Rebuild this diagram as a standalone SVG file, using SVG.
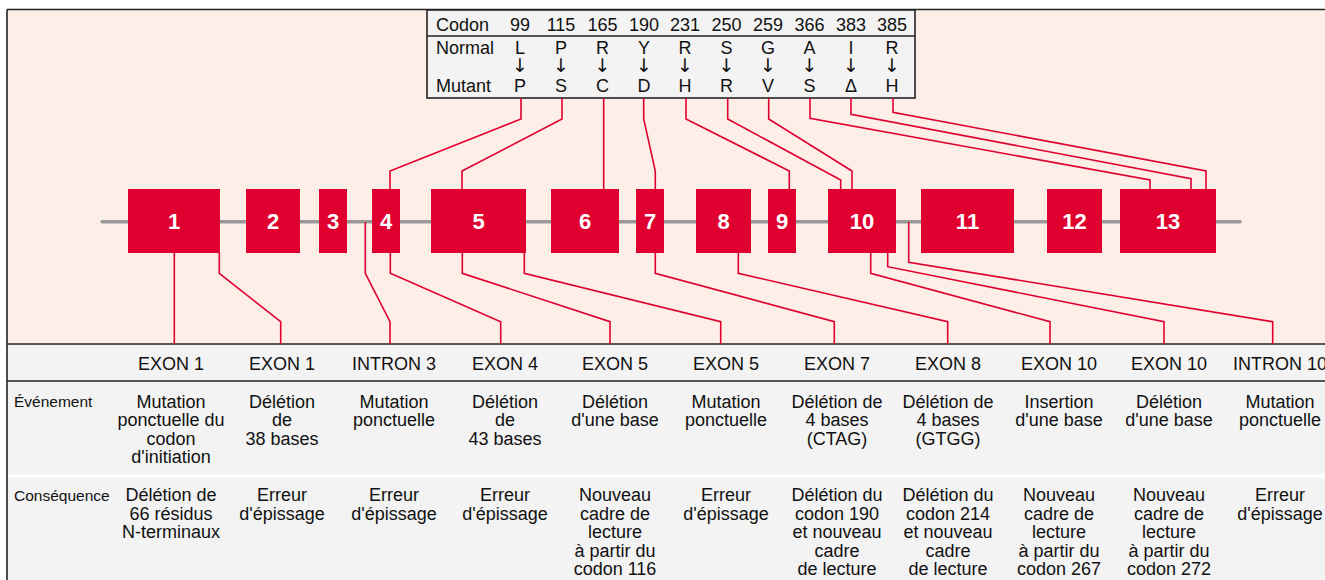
<svg xmlns="http://www.w3.org/2000/svg" width="1325" height="580" viewBox="0 0 1325 580">
<style>
.ex{fill:#e0002f}
.exl{font-family:"Liberation Sans",Arial,sans-serif;font-weight:bold;font-size:22px;fill:#fff;text-anchor:middle}
.c{fill:none;stroke:#e0002f;stroke-width:1.6}
.t{font-family:"Liberation Sans","DejaVu Sans",sans-serif;font-size:18px;fill:#111}
.m{text-anchor:middle}
.ar{font-family:"DejaVu Sans",sans-serif;font-size:19px;fill:#111;text-anchor:middle}
.s{font-family:"Liberation Sans",sans-serif;font-size:15.5px;fill:#111}
.bd{stroke:#222;stroke-width:1.6;fill:none}
</style>
<rect x="0" y="0" width="1325" height="580" fill="#fff"/>
<rect x="7" y="9.5" width="1318" height="335" fill="#fdefe8"/>
<rect x="7" y="344" width="1318" height="236" fill="#f3f3f3"/>
<line x1="8" y1="476" x2="1325" y2="476" stroke="#fff" stroke-width="3"/>
<g id="frame" class="bd">
<line x1="7" y1="9.5" x2="1325" y2="9.5"/>
<line x1="7" y1="9.5" x2="7" y2="580"/>
<line x1="7" y1="344" x2="1325" y2="344"/>
<line x1="7" y1="381" x2="1325" y2="381"/>
</g>
<g id="codon-table">
<rect x="427" y="10" width="488" height="88" fill="#f3f3f3" stroke="#222" stroke-width="1.6"/>
<line x1="427" y1="36" x2="915" y2="36" stroke="#222" stroke-width="1.6"/>
<text class="t" x="436" y="30.5">Codon</text>
<text class="t" x="436" y="54">Normal</text>
<text class="t" x="436" y="91.5">Mutant</text>
<g class="t m">
<text x="520" y="30.5">99</text><text x="561" y="30.5">115</text><text x="602.5" y="30.5">165</text><text x="644" y="30.5">190</text><text x="685" y="30.5">231</text><text x="726.5" y="30.5">250</text><text x="768" y="30.5">259</text><text x="809.5" y="30.5">366</text><text x="851" y="30.5">383</text><text x="892" y="30.5">385</text>
<text x="520" y="54">L</text><text x="561" y="54">P</text><text x="602.5" y="54">R</text><text x="644" y="54">Y</text><text x="685" y="54">R</text><text x="726.5" y="54">S</text><text x="768" y="54">G</text><text x="809.5" y="54">A</text><text x="851" y="54">I</text><text x="892" y="54">R</text>
<text x="520" y="91.5">P</text><text x="561" y="91.5">S</text><text x="602.5" y="91.5">C</text><text x="644" y="91.5">D</text><text x="685" y="91.5">H</text><text x="726.5" y="91.5">R</text><text x="768" y="91.5">V</text><text x="809.5" y="91.5">S</text><text x="851" y="91.5">Δ</text><text x="892" y="91.5">H</text>
</g>
<g class="ar">
<text x="520" y="72">↓</text><text x="561" y="72">↓</text><text x="602.5" y="72">↓</text><text x="644" y="72">↓</text><text x="685" y="72">↓</text><text x="726.5" y="72">↓</text><text x="768" y="72">↓</text><text x="809.5" y="72">↓</text><text x="851" y="72">↓</text><text x="892" y="72">↓</text>
</g>
</g>
<line id="backbone" x1="102" y1="221.7" x2="1240" y2="221.7" stroke="#999" stroke-width="3.5" stroke-linecap="round"/>
<g id="connectors" class="c">
<polyline points="521,98 521,119 390,171 390,189"/>
<polyline points="562,98 562,119 462,171 462,189"/>
<polyline points="603.7,98 603.7,189"/>
<polyline points="643.7,98 643.7,119 655.3,171 655.3,189"/>
<polyline points="686,98 686,119 789.3,171 789.3,189"/>
<polyline points="727.7,98 727.7,119 840.7,180 840.7,189"/>
<polyline points="768.7,98 768.7,119 852,171 852,189"/>
<polyline points="810,98 810,118.3 1150,180 1150,189"/>
<polyline points="851,98 851,114.3 1191,178.7 1191,189"/>
<polyline points="893,98 893,112.3 1206,171 1206,189"/>
<polyline points="174.3,253 174.3,344"/>
<polyline points="219.3,253 219.3,273.3 280.7,321.7 280.7,344"/>
<polyline points="365.3,222 365.3,273.3 390,321.7 390,344"/>
<polyline points="390.3,253 390.3,273.3 500.7,321.7 500.7,344"/>
<polyline points="462.3,253 462.3,273.3 610,321.7 610,344"/>
<polyline points="524.3,253 524.3,273.3 720.7,321.7 720.7,344"/>
<polyline points="655.3,253 655.3,273.3 834.3,321.7 834.3,344"/>
<polyline points="738.3,253 738.3,273.3 947.7,321.7 947.7,344"/>
<polyline points="870.7,253 870.7,273.3 1050,321.7 1050,344"/>
<polyline points="887.7,253 887.7,266.7 1164,321.7 1164,344"/>
<polyline points="908.7,222 908.7,262.3 1272.7,321.7 1272.7,344"/>
</g>
<g id="exon1"><rect class="ex" x="128" y="189" width="92" height="64"/><text class="exl" x="174" y="229">1</text></g>
<g id="exon2"><rect class="ex" x="246" y="189" width="54" height="64"/><text class="exl" x="273" y="229">2</text></g>
<g id="exon3"><rect class="ex" x="319" y="189" width="28" height="64"/><text class="exl" x="333" y="229">3</text></g>
<g id="exon4"><rect class="ex" x="372" y="189" width="28" height="64"/><text class="exl" x="386" y="229">4</text></g>
<g id="exon5"><rect class="ex" x="431" y="189" width="95" height="64"/><text class="exl" x="478.5" y="229">5</text></g>
<g id="exon6"><rect class="ex" x="551" y="189" width="68" height="64"/><text class="exl" x="585" y="229">6</text></g>
<g id="exon7"><rect class="ex" x="636" y="189" width="28" height="64"/><text class="exl" x="650" y="229">7</text></g>
<g id="exon8"><rect class="ex" x="696" y="189" width="55" height="64"/><text class="exl" x="723.5" y="229">8</text></g>
<g id="exon9"><rect class="ex" x="768" y="189" width="28" height="64"/><text class="exl" x="782" y="229">9</text></g>
<g id="exon10"><rect class="ex" x="828" y="189" width="68" height="64"/><text class="exl" x="862" y="229">10</text></g>
<g id="exon11"><rect class="ex" x="921" y="189" width="93" height="64"/><text class="exl" x="967.5" y="229">11</text></g>
<g id="exon12"><rect class="ex" x="1047" y="189" width="55" height="64"/><text class="exl" x="1074.5" y="229">12</text></g>
<g id="exon13"><rect class="ex" x="1120" y="189" width="96" height="64"/><text class="exl" x="1168" y="229">13</text></g>
<g id="mutation-table">
<text class="s" x="14" y="407">Événement</text>
<text class="s" x="14" y="501">Conséquence</text>
<g class="t m">
<text x="171" y="370">EXON 1</text>
<text x="282" y="370">EXON 1</text>
<text x="394" y="370">INTRON 3</text>
<text x="505" y="370">EXON 4</text>
<text x="615" y="370">EXON 5</text>
<text x="726" y="370">EXON 5</text>
<text x="837" y="370">EXON 7</text>
<text x="948" y="370">EXON 8</text>
<text x="1059" y="370">EXON 10</text>
<text x="1169" y="370">EXON 10</text>
<text x="1280" y="370">INTRON 10</text>

<text x="171" y="407.5">Mutation<tspan x="171" dy="18.6">ponctuelle du</tspan><tspan x="171" dy="18.6">codon</tspan><tspan x="171" dy="18.6">d'initiation</tspan></text>
<text x="282" y="407.5">Délétion<tspan x="282" dy="18.6">de</tspan><tspan x="282" dy="18.6">38 bases</tspan></text>
<text x="394" y="407.5">Mutation<tspan x="394" dy="18.6">ponctuelle</tspan></text>
<text x="505" y="407.5">Délétion<tspan x="505" dy="18.6">de</tspan><tspan x="505" dy="18.6">43 bases</tspan></text>
<text x="615" y="407.5">Délétion<tspan x="615" dy="18.6">d'une base</tspan></text>
<text x="726" y="407.5">Mutation<tspan x="726" dy="18.6">ponctuelle</tspan></text>
<text x="837" y="407.5">Délétion de<tspan x="837" dy="18.6">4 bases</tspan><tspan x="837" dy="18.6">(CTAG)</tspan></text>
<text x="948" y="407.5">Délétion de<tspan x="948" dy="18.6">4 bases</tspan><tspan x="948" dy="18.6">(GTGG)</tspan></text>
<text x="1059" y="407.5">Insertion<tspan x="1059" dy="18.6">d'une base</tspan></text>
<text x="1169" y="407.5">Délétion<tspan x="1169" dy="18.6">d'une base</tspan></text>
<text x="1280" y="407.5">Mutation<tspan x="1280" dy="18.6">ponctuelle</tspan></text>

<text x="171" y="501">Délétion de<tspan x="171" dy="18.6">66 résidus</tspan><tspan x="171" dy="18.6">N-terminaux</tspan></text>
<text x="282" y="501">Erreur<tspan x="282" dy="18.6">d'épissage</tspan></text>
<text x="394" y="501">Erreur<tspan x="394" dy="18.6">d'épissage</tspan></text>
<text x="505" y="501">Erreur<tspan x="505" dy="18.6">d'épissage</tspan></text>
<text x="615" y="501">Nouveau<tspan x="615" dy="18.6">cadre de</tspan><tspan x="615" dy="18.6">lecture</tspan><tspan x="615" dy="18.6">à partir du</tspan><tspan x="615" dy="18.6">codon 116</tspan></text>
<text x="726" y="501">Erreur<tspan x="726" dy="18.6">d'épissage</tspan></text>
<text x="837" y="501">Délétion du<tspan x="837" dy="18.6">codon 190</tspan><tspan x="837" dy="18.6">et nouveau</tspan><tspan x="837" dy="18.6">cadre</tspan><tspan x="837" dy="18.6">de lecture</tspan></text>
<text x="948" y="501">Délétion du<tspan x="948" dy="18.6">codon 214</tspan><tspan x="948" dy="18.6">et nouveau</tspan><tspan x="948" dy="18.6">cadre</tspan><tspan x="948" dy="18.6">de lecture</tspan></text>
<text x="1059" y="501">Nouveau<tspan x="1059" dy="18.6">cadre de</tspan><tspan x="1059" dy="18.6">lecture</tspan><tspan x="1059" dy="18.6">à partir du</tspan><tspan x="1059" dy="18.6">codon 267</tspan></text>
<text x="1169" y="501">Nouveau<tspan x="1169" dy="18.6">cadre de</tspan><tspan x="1169" dy="18.6">lecture</tspan><tspan x="1169" dy="18.6">à partir du</tspan><tspan x="1169" dy="18.6">codon 272</tspan></text>
<text x="1280" y="501">Erreur<tspan x="1280" dy="18.6">d'épissage</tspan></text>
</g>
</g>
</svg>
